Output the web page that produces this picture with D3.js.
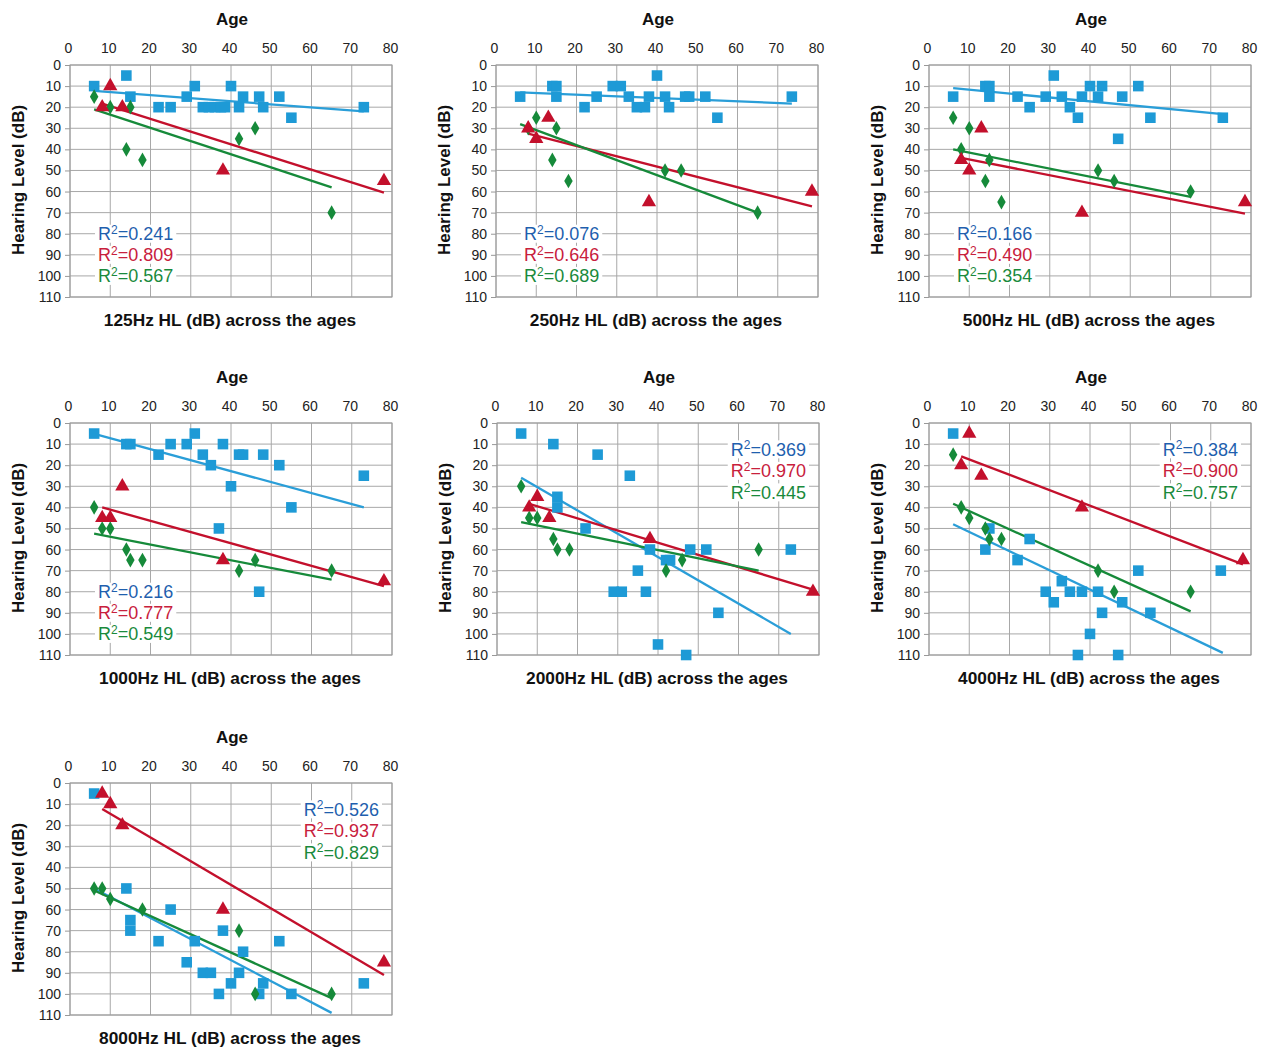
<!DOCTYPE html>
<html><head><meta charset="utf-8">
<script src="https://cdn.jsdelivr.net/npm/d3@7"></script>
<style>
body{margin:0;background:#fff;}
svg{display:block;font-family:"Liberation Sans",Arial,sans-serif;}
</style></head>
<body><svg id="c" width="1270" height="1048"></svg>
<script>
// ---------- data ----------
const frequencies = ["125Hz","250Hz","500Hz","1000Hz","2000Hz","4000Hz","8000Hz"];
const xTicks = [0,10,20,30,40,50,60,70,80];
const yTicks = [0,10,20,30,40,50,60,70,80,90,100,110];

const blue125 = [[6,10],[14,5],[15,15],[22,20],[25,20],[29,15],[31,10],[33,20],[34.5,20],[36,20],[37.5,20],[38.5,20],[40,10],[42,20],[43,15],[47,15],[48,20],[52,15],[55,25],[73,20]];
const red125 = [[8,20],[10,10],[13,20],[38,50],[78,55]];
const green125 = [[6,15],[10,20],[15,20],[14,40],[18,45],[42,35],[46,30],[65,70]];
const trend125 = {blue:[[6,12.3],[73,22]], red:[[8,18.3],[78,60.5]], green:[[6,21],[65,58]]};
const r2_125 = ["0.241","0.809","0.567"];

const blue250 = [[6,15],[14,10],[15,10],[15,15],[22,20],[25,15],[29,10],[31,10],[33,15],[35,20],[37,20],[38,15],[40,5],[42,15],[43,20],[47,15],[48,15],[52,15],[55,25],[73.5,15]];
const red250 = [[8,30],[10,35],[13,25],[38,65],[78.5,60]];
const green250 = [[8,30],[10,25],[15,30],[14,45],[18,55],[42,50],[46,50],[65,70]];
const trend250 = {blue:[[6,13],[73.5,18.3]], red:[[8,32.5],[78.5,67]], green:[[6,28],[65,70]]};
const r2_250 = ["0.076","0.646","0.689"];

const blue500 = [[6,15],[14,10],[15,10],[15,15],[22,15],[25,20],[29,15],[31,5],[33,15],[35,20],[37,25],[38,15],[40,10],[42,15],[43,10],[47,35],[48,15],[52,10],[55,25],[73,25]];
const red500 = [[8,45],[10,50],[13,30],[38,70],[78.5,65]];
const green500 = [[6,25],[8,40],[10,30],[15,45],[14,55],[18,65],[42,50],[46,55],[65,60]];
const trend500 = {blue:[[6,11],[73,23.3]], red:[[8,44],[78.5,70.5]], green:[[6,40],[65,62.5]]};
const r2_500 = ["0.166","0.490","0.354"];

const blue1000 = [[6,5],[14,10],[15,10],[22,15],[25,10],[29,10],[31,5],[33,15],[35,20],[38,10],[40,30],[42,15],[43,15],[48,15],[52,20],[55,40],[37,50],[47,80],[73,25]];
const red1000 = [[8,45],[10,45],[13,30],[38,65],[78,75]];
const green1000 = [[6,40],[8,50],[10,50],[14,60],[15,65],[18,65],[42,70],[46,65],[65,70]];
const trend1000 = {blue:[[6.5,5.4],[73,40]], red:[[8,40],[78,77.3]], green:[[6,52.5],[65,74.3]]};
const r2_1000 = ["0.216","0.777","0.549"];

const blue2000 = [[6,5],[14,10],[25,15],[33,25],[15,35],[15,40],[22,50],[38,60],[35,70],[42,65],[43,65],[48,60],[52,60],[29,80],[31,80],[37,80],[55,90],[40,105],[47,110],[73,60]];
const red2000 = [[8,40],[10,35],[13,45],[38,55],[78.5,80]];
const green2000 = [[6,30],[8,45],[10,45],[14,55],[15,60],[18,60],[42,70],[46,65],[65,60]];
const trend2000 = {blue:[[6,26],[73,100]], red:[[8,38.3],[78.5,79]], green:[[6,47],[65,70]]};
const r2_2000 = ["0.369","0.970","0.445"];

const blue4000 = [[6,5],[15,50],[14,60],[25,55],[22,65],[29,80],[31,85],[33,75],[35,80],[38,80],[37,110],[40,100],[42,80],[43,90],[47,110],[48,85],[52,70],[55,90],[72.5,70]];
const red4000 = [[8,20],[10,5],[13,25],[38,40],[78,65]];
const green4000 = [[6,15],[8,40],[10,45],[14,50],[15,55],[18,55],[42,70],[46,80],[65,80]];
const trend4000 = {blue:[[6,48],[73,109]], red:[[8,15.8],[78,67]], green:[[6,38.3],[65,89.3]]};
const r2_4000 = ["0.384","0.900","0.757"];

const blue8000 = [[6,5],[14,50],[15,65],[15,70],[25,60],[22,75],[31,75],[29,85],[33,90],[35,90],[37,100],[38,70],[40,95],[42,90],[43,80],[47,100],[48,95],[52,75],[55,100],[73,95]];
const red8000 = [[8,5],[10,10],[13,20],[38,60],[78,85]];
const green8000 = [[6,50],[8,50],[10,55],[18,60],[42,70],[46,100],[65,100]];
const trend8000 = {blue:[[6,50],[65,109]], red:[[8,12.3],[78,91]], green:[[6,51],[65,102]]};
const r2_8000 = ["0.526","0.937","0.829"];

// ---------- layout ----------
const panels = [
  {f:"125Hz", left:70, top:65, blue:blue125, red:red125, green:green125, trend:trend125, r2:r2_125, pos:"bl"},
  {f:"250Hz", left:496, top:65, blue:blue250, red:red250, green:green250, trend:trend250, r2:r2_250, pos:"bl"},
  {f:"500Hz", left:929, top:65, blue:blue500, red:red500, green:green500, trend:trend500, r2:r2_500, pos:"bl"},
  {f:"1000Hz", left:70, top:423, blue:blue1000, red:red1000, green:green1000, trend:trend1000, r2:r2_1000, pos:"bl"},
  {f:"2000Hz", left:497, top:423, blue:blue2000, red:red2000, green:green2000, trend:trend2000, r2:r2_2000, pos:"tr"},
  {f:"4000Hz", left:929, top:423, blue:blue4000, red:red4000, green:green4000, trend:trend4000, r2:r2_4000, pos:"tr"},
  {f:"8000Hz", left:70, top:783, blue:blue8000, red:red8000, green:green8000, trend:trend8000, r2:r2_8000, pos:"tr"}
];
const W = 322, H = 232;
const col = {
  blue:"#1e9ad6", blueLine:"#2a9ed8", blueText:"#1f5fae",
  red:"#c3102c", redText:"#c8203c",
  green:"#168a3a", greenText:"#1a8a3c"
};

const svg = d3.select("#c");
svg.append("rect").attr("width",1270).attr("height",1048).attr("fill","#fff");

panels.forEach(p => {
  const g = svg.append("g").attr("transform",`translate(${p.left},${p.top})`);
  const x = d3.scaleLinear().domain([0,80]).range([0,W]);
  const y = d3.scaleLinear().domain([0,110]).range([0,H]);

  // gridlines
  g.append("g").selectAll("line").data(xTicks).join("line")
    .attr("x1",d=>x(d)).attr("x2",d=>x(d)).attr("y1",0).attr("y2",H)
    .attr("stroke","#a8a8a8").attr("stroke-width",1);
  g.append("g").selectAll("line").data(yTicks).join("line")
    .attr("x1",0).attr("x2",W).attr("y1",d=>y(d)).attr("y2",d=>y(d))
    .attr("stroke","#a8a8a8").attr("stroke-width",1);
  g.append("rect").attr("width",W).attr("height",H).attr("fill","none").attr("stroke","#9a9a9a");

  // axes (top x, left y)
  const xa = d3.axisTop(x).tickValues(xTicks).tickSize(0).tickPadding(12);
  const gx = g.append("g").call(xa);
  gx.select(".domain").remove();
  gx.selectAll("text").attr("font-size",14).attr("fill","#222").attr("font-family","Liberation Sans, Arial, sans-serif").attr("dx",-2);
  const ya = d3.axisLeft(y).tickValues(yTicks).tickSize(5).tickPadding(4);
  const gy = g.append("g").call(ya);
  gy.select(".domain").remove();
  gy.selectAll("line").attr("stroke","#999");
  gy.selectAll("text").attr("font-size",14).attr("fill","#222").attr("font-family","Liberation Sans, Arial, sans-serif");

  // titles
  g.append("text").attr("x",W/2 + 1).attr("y",-46).attr("dy","0.35em").attr("text-anchor","middle")
    .attr("font-size",17).attr("font-weight","bold").attr("fill","#111").text("Age");
  g.append("text").attr("x",W/2 - 1).attr("y",H+23).attr("dy","0.35em").attr("text-anchor","middle")
    .attr("font-size",17.3).attr("font-weight","bold").attr("fill","#111").text(p.f + " HL (dB) across the ages");
  g.append("text").attr("transform",`translate(-52,${H/2 - 1}) rotate(-90)`).attr("dy","0.35em").attr("text-anchor","middle")
    .attr("font-size",17).attr("font-weight","bold").attr("fill","#111").text("Hearing Level (dB)");

  // R² labels
  const labs = [["blueText",p.r2[0]],["redText",p.r2[1]],["greenText",p.r2[2]]];
  const lg = g.append("g");
  labs.forEach((l,i) => {
    let tx, ty, anchor;
    if (p.pos === "bl") { tx = 28; ty = y(80 + 10*i); anchor = "start"; }
    else { tx = W - 13; ty = y(12.5 + 10.2*i); anchor = "end"; }
    const t = lg.append("text").attr("x",tx).attr("y",ty).attr("dy","0.36em").attr("text-anchor",anchor)
      .attr("font-size",18).attr("fill",col[l[0]]);
    t.append("tspan").text("R");
    t.append("tspan").attr("font-size",12).attr("dy","-0.55em").text("2");
    t.append("tspan").attr("dy","0.37em").text("=" + l[1]);
    const bb = t.node().getBBox();
    lg.insert("rect","text").attr("x",bb.x-3).attr("y",ty-9).attr("width",bb.width+6).attr("height",18).attr("fill","#fff");
  });

  // trend lines
  const line = d3.line().x(d=>x(d[0])).y(d=>y(d[1]));
  g.append("path").datum(p.trend.blue).attr("d",line).attr("stroke",col.blueLine).attr("stroke-width",2.3).attr("fill","none");
  g.append("path").datum(p.trend.red).attr("d",line).attr("stroke",col.red).attr("stroke-width",2.3).attr("fill","none");
  g.append("path").datum(p.trend.green).attr("d",line).attr("stroke",col.green).attr("stroke-width",2.3).attr("fill","none");

  // markers
  g.append("g").selectAll("path").data(p.blue).join("path")
    .attr("d",d3.symbol(d3.symbolSquare,112)).attr("transform",d=>`translate(${x(d[0])},${y(d[1])})`).attr("fill",col.blue);
  g.append("g").selectAll("path").data(p.green).join("path")
    .attr("d",d3.symbol(d3.symbolDiamond,62)).attr("transform",d=>`translate(${x(d[0])},${y(d[1])})`).attr("fill",col.green);
  g.append("g").selectAll("path").data(p.red).join("path")
    .attr("d",d3.symbol(d3.symbolTriangle,88)).attr("transform",d=>`translate(${x(d[0])},${y(d[1])})`).attr("fill",col.red);
});
</script>
</body></html>
